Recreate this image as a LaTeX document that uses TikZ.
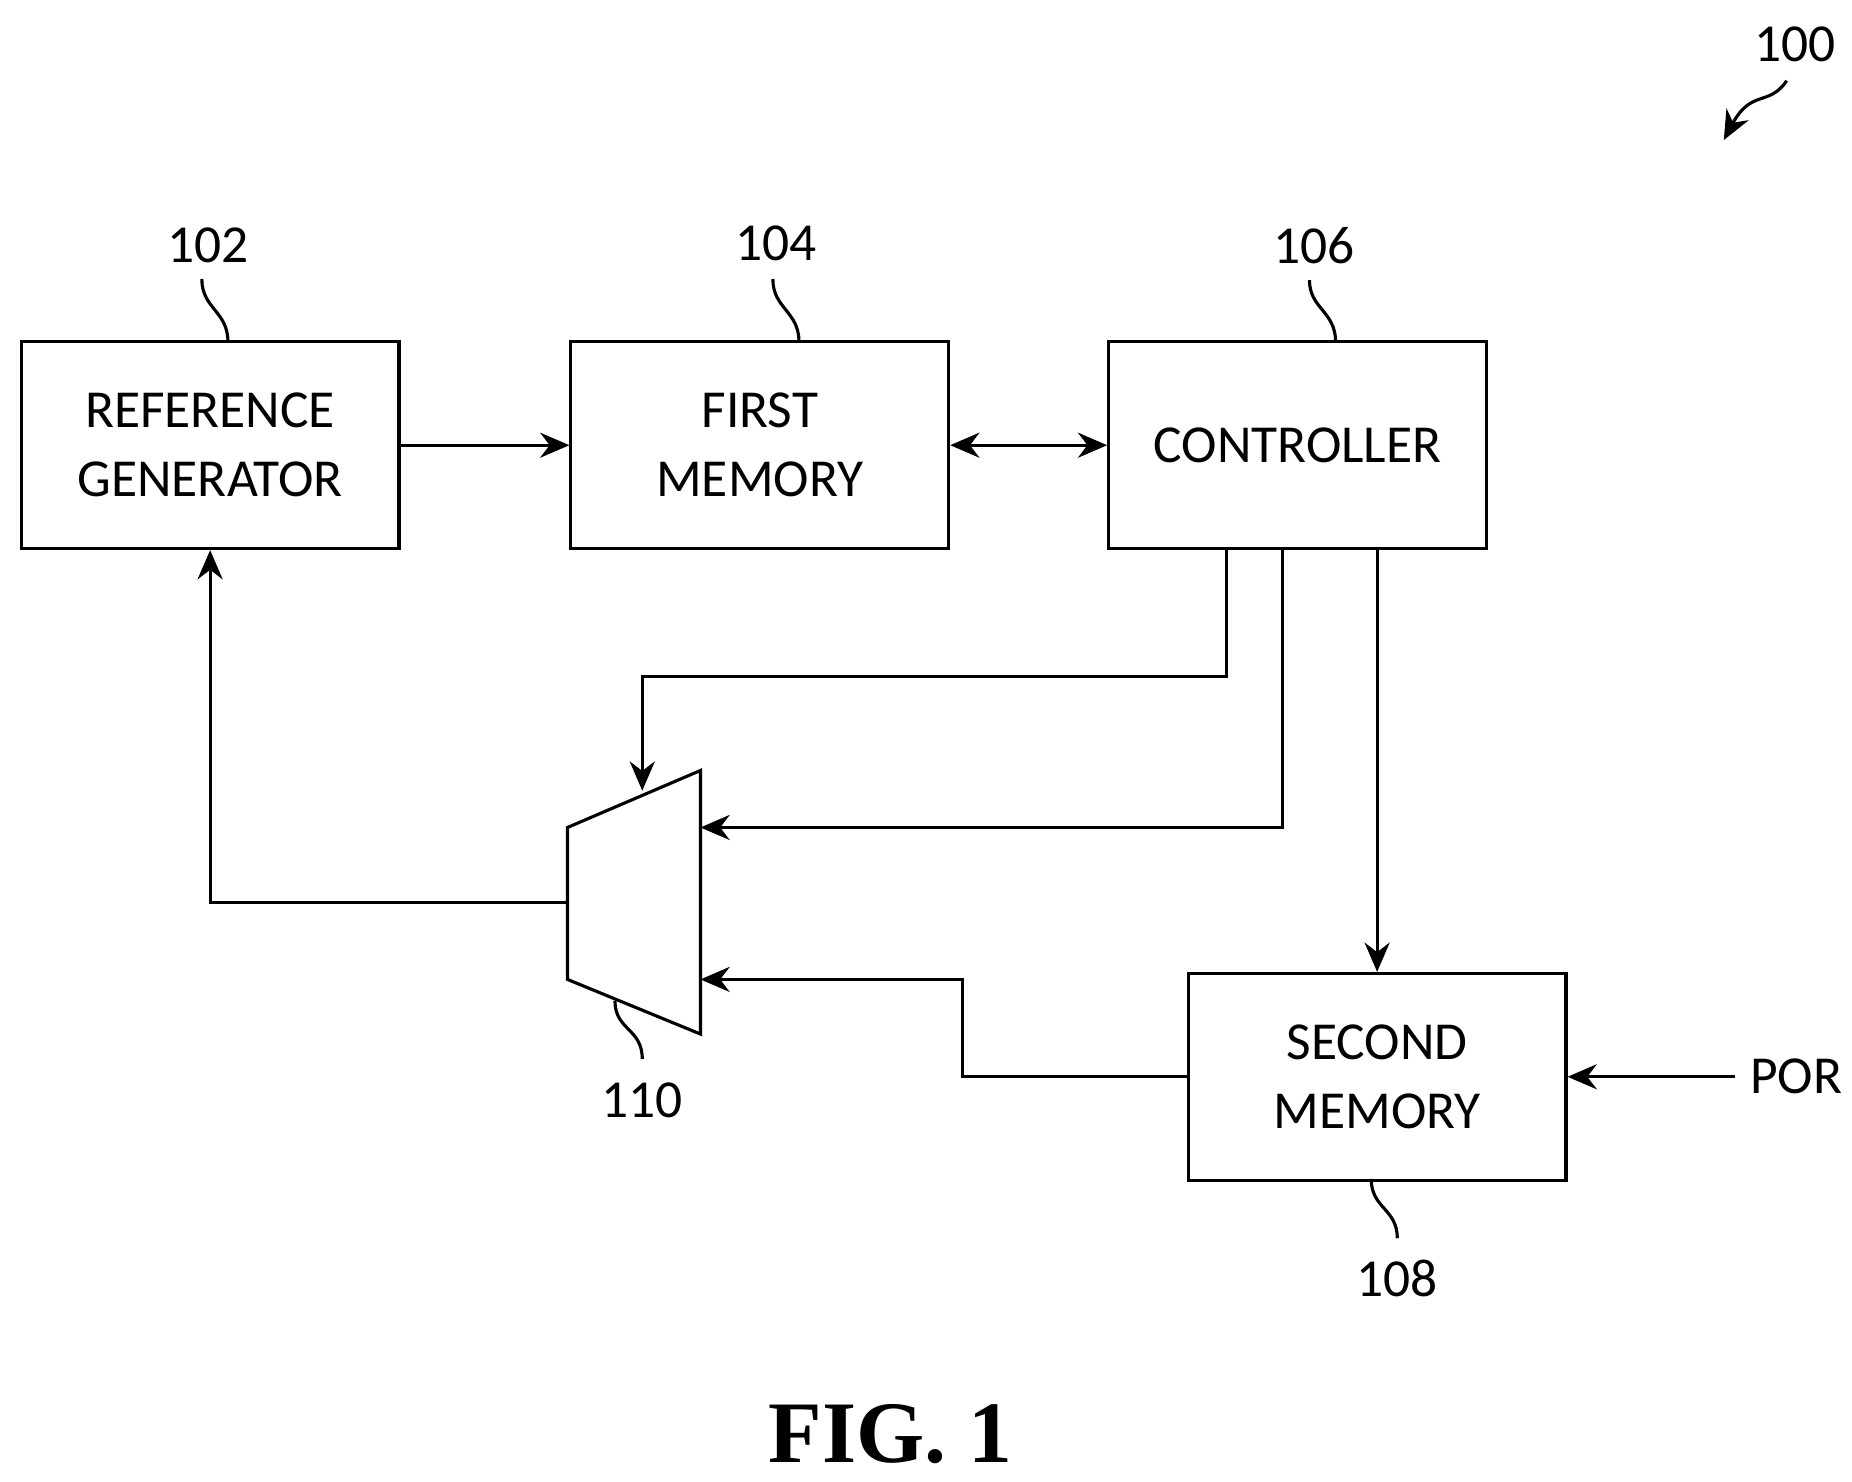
\documentclass[tikz,border=0pt]{standalone}
\usepackage{fontspec}
\setmainfont{Carlito}
\newfontfamily\figfont{Liberation Serif}
\usetikzlibrary{arrows.meta}
\tikzset{
  block/.style={draw, line width=0.75pt, minimum width=3.18cm, minimum height=1.74cm, align=center, font=\fontsize{12.8}{16.5}\selectfont},
  conn/.style={line width=0.75pt, -{Stealth[length=7pt,width=6pt]}},
  tag/.style={font=\fontsize{12.8}{16}\selectfont},
  lead/.style={line width=0.75pt}
}
\begin{document}
\begin{tikzpicture}[x=0.01cm, y=-0.01cm]
  \useasboundingbox (0,0) rectangle (1560,1248);

  % Bloques
  \node[block] (refgen) at (177,375) {REFERENCE\\GENERATOR};
  \node[block] (firstmem) at (640,375) {FIRST\\MEMORY};
  \node[block] (ctrl) at (1093,375) {CONTROLLER};
  \node[block] (secmem) at (1160,907) {SECOND\\MEMORY};

  % Multiplexor
  \draw[line width=0.75pt] (478,697) -- (590,649) -- (590,871) -- (478,825) -- cycle;
  \coordinate (muxtop) at (541,666);
  \coordinate (muxin1) at (590,697);
  \coordinate (muxin2) at (590,825);
  \coordinate (muxout) at (478,760);

  % Conexiones
  \draw[conn] (refgen.east) -- (firstmem.west);
  \draw[conn, {Stealth[length=7pt,width=6pt]}-{Stealth[length=7pt,width=6pt]}] (firstmem.east) -- (ctrl.west);
  \draw[conn] (1033,462) |- (541,570) -- (muxtop);
  \draw[conn] (1080,462) |- (muxin1);
  \draw[conn] (1160,462) -- (secmem.north);
  \draw[conn] (secmem.west) -| (811,825) -- (muxin2);
  \draw[conn] (muxout) -| (refgen.south);
  \node[tag] (por) at (1513,907) {POR};
  \draw[conn] (por.west) -- (secmem.east);

  % Referencias
  \node[tag] (n100) at (1512,37) {100};
  \draw[lead, -{Stealth[length=7pt,width=6pt]}] (1505,68) .. controls (1490,90) and (1475,75) .. (1452,118);
  \node[tag] (n102) at (175,207) {102};
  \draw[lead] (170,235) .. controls (170,260) and (192,262) .. (192,288);
  \node[tag] (n104) at (654,205) {104};
  \draw[lead] (651,235) .. controls (651,260) and (673,262) .. (673,288);
  \node[tag] (n106) at (1107,207) {106};
  \draw[lead] (1103,236) .. controls (1103,260) and (1125,262) .. (1125,288);
  \node[tag] (n108) at (1177,1077) {108};
  \draw[lead] (1155,993) .. controls (1155,1018) and (1177,1018) .. (1177,1043);
  \node[tag] (n110) at (541,927) {110};
  \draw[lead] (518,843) .. controls (518,868) and (541,866) .. (541,892);

  \node[font=\figfont\bfseries\fontsize{21}{23}\selectfont] (fig) at (750,1208) {FIG. 1};
\end{tikzpicture}
\end{document}
